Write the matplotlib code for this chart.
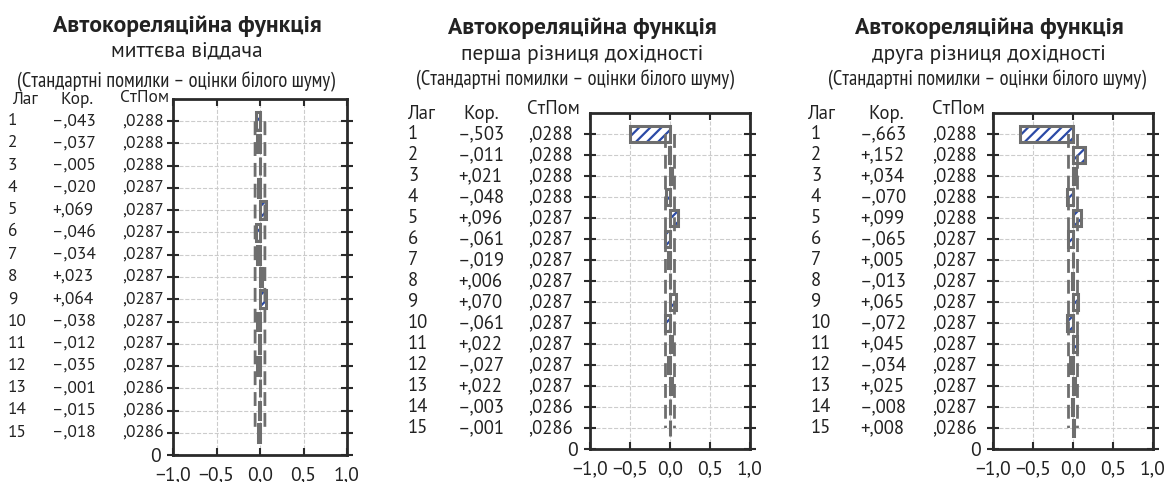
import numpy as np
import matplotlib.pyplot as plt
from matplotlib import transforms

MAIN = ['PT Sans', 'Roboto', 'DejaVu Sans']
NARROW = ['PT Sans Narrow', 'Roboto Condensed', 'Roboto', 'DejaVu Sans']
plt.rcParams['font.family'] = MAIN
plt.rcParams['hatch.linewidth'] = 1.6

# --- data ---
lags = np.arange(1, 16)
subtitles = ['миттєва віддача', 'перша різниця дохідності', 'друга різниця дохідності']
corr_1 = [-0.043, -0.037, -0.005, -0.020, 0.069, -0.046, -0.034, 0.023, 0.064, -0.038,
          -0.012, -0.035, -0.001, -0.015, -0.018]
se_1 = [.0288, .0288, .0288, .0287, .0287, .0287, .0287, .0287, .0287, .0287,
        .0287, .0287, .0286, .0286, .0286]
corr_2 = [-0.503, -0.011, 0.021, -0.048, 0.096, -0.061, -0.019, 0.006, 0.070, -0.061,
          0.022, -0.027, 0.022, -0.003, -0.001]
se_2 = [.0288, .0288, .0288, .0288, .0287, .0287, .0287, .0287, .0287, .0287,
        .0287, .0287, .0287, .0286, .0286]
corr_3 = [-0.663, 0.152, 0.034, -0.070, 0.099, -0.065, 0.005, -0.013, 0.065, -0.072,
          0.045, -0.034, 0.025, -0.008, 0.008]
se_3 = [.0288, .0288, .0288, .0288, .0288, .0287, .0287, .0287, .0287, .0287,
        .0287, .0287, .0287, .0287, .0286]
xticks = [-1.0, -0.5, 0.0, 0.5, 1.0]

W, H = 1174, 482
fig = plt.figure(figsize=(W / 100, H / 100), dpi=100)


def fx(px):
    return px / W


def fy(py):
    return 1 - py / H


def fmt_corr(v):
    s = f'{abs(v):.3f}'.lstrip('0').replace('.', ',')
    return ('+' if v >= 0 else '–') + s


def fmt_se(v):
    return f'{v:.4f}'.lstrip('0').replace('.', ',')


GRAY = '#6e6e6e'
BLUE = '#2b4aa6'
TXT = '#222222'

# per panel layout in pixels: axes box, title x/y, header/column x, table font size
panels = [
    dict(box=(173, 99, 347, 455), tx=187, ty=(26, 51, 82), px=176, hy=100, sy=98,
         cols=(8, 52, 122), hcols=(12, 60, 120), fs=12.5, corr=corr_1, se=se_1),
    dict(box=(590, 113, 750, 449), tx=582, ty=(28, 54, 80), px=575, hy=114, sy=109,
         cols=(408, 458, 528), hcols=(407, 463, 527), fs=13.5, corr=corr_2, se=se_2),
    dict(box=(993, 113, 1153, 449), tx=989, ty=(28, 54, 80), px=987, hy=114, sy=109,
         cols=(811, 860, 932), hcols=(807, 868, 932), fs=13.5, corr=corr_3, se=se_3),
]

for p, sub in zip(panels, subtitles):
    l, t, r, b = p['box']
    fs = p['fs']
    ax = fig.add_axes([fx(l), fy(b), fx(r - l), (b - t) / H])
    ypos = 16 - lags
    corr = np.array(p['corr'])
    se = np.array(p['se'])

    ax.grid(True, color='#cccccc', linestyle='--', linewidth=0.8)
    ax.set_axisbelow(True)
    ax.barh(ypos, corr, height=0.8, left=0, color='white', edgecolor=BLUE,
            linewidth=0, hatch='///', zorder=2)
    ax.barh(ypos, corr, height=0.8, left=0, fill=False, edgecolor=GRAY,
            linewidth=2.2, zorder=3)
    lim = 1.96 * se
    ax.plot(lim, ypos, color=GRAY, lw=2, ls=(0, (5, 2.5)), zorder=4)
    ax.plot(-lim, ypos, color=GRAY, lw=2, ls=(0, (5, 2.5)), zorder=4)

    ax.set_xlim(-1, 1)
    ax.set_ylim(0, 16)
    ax.set_xticks(xticks)
    ax.set_xticklabels([f'{v:.1f}'.replace('.', ',').replace('-', '−') for v in xticks],
                       fontsize=14, color=TXT)
    ax.set_yticks(np.arange(0, 16))
    ax.set_yticklabels(['0'] + [''] * 15, fontsize=14, color=TXT)
    for s in ax.spines.values():
        s.set_linewidth(2)
        s.set_color('#2a2a2a')
    ax.tick_params(axis='y', direction='inout', length=8, width=1.5, color='#2a2a2a',
                   right=True, pad=5)
    ax.tick_params(axis='x', direction='in', length=5, width=1.5, color='#2a2a2a',
                   top=True, pad=8)

    # titles
    fig.text(fx(p['tx']), fy(p['ty'][0]), 'Автокореляційна функція', ha='center',
             va='center', fontsize=17, fontweight='bold', color=TXT)
    fig.text(fx(p['tx']), fy(p['ty'][1]), sub, ha='center', va='center',
             fontsize=15.5, color=TXT)
    fig.text(fx(p['px']), fy(p['ty'][2]), '(Стандартні помилки – оцінки білого шуму)',
             ha='center', va='center', fontsize=14.8, color=TXT, family=NARROW)

    # table headers
    c0, c1, c2 = p['hcols']
    fig.text(fx(c0), fy(p['hy']), 'Лаг', ha='left', va='center', fontsize=fs, color=TXT)
    fig.text(fx(c1), fy(p['hy']), 'Кор.', ha='left', va='center', fontsize=fs, color=TXT)
    fig.text(fx(c2), fy(p['sy']), 'СтПом', ha='left', va='center', fontsize=fs, color=TXT)

    # table rows, aligned with axes rows
    trans = transforms.blended_transform_factory(fig.transFigure, ax.transData)
    c0, c1, c2 = p['cols']
    for k, y, c, e in zip(lags, ypos, corr, se):
        ax.text(fx(c0), y, str(k), transform=trans, ha='left', va='center',
                fontsize=fs, color=TXT)
        ax.text(fx(c1), y, fmt_corr(c), transform=trans, ha='left', va='center',
                fontsize=fs, color=TXT)
        ax.text(fx(c2), y, fmt_se(e), transform=trans, ha='left', va='center',
                fontsize=fs, color=TXT)

fig.savefig('out.png', dpi=100)
